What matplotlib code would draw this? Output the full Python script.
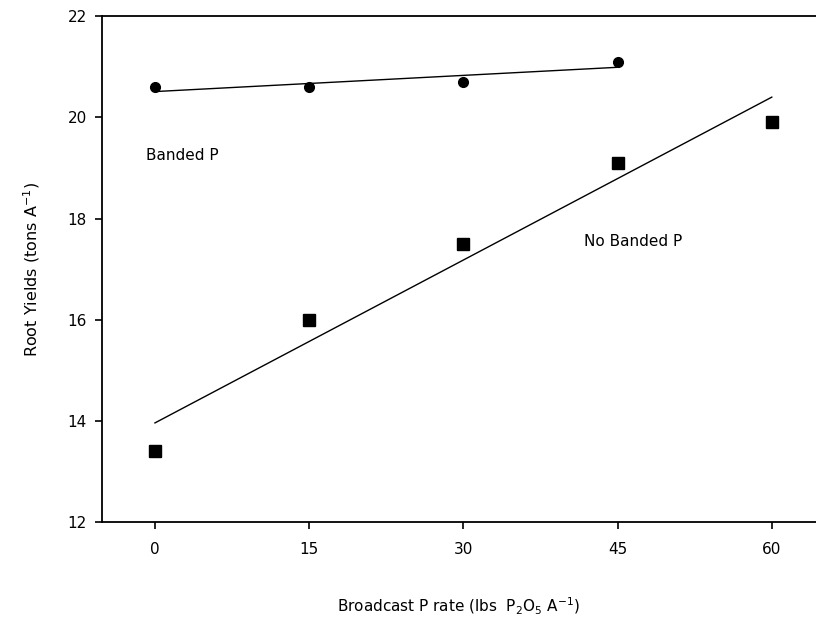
import numpy as np
import matplotlib
matplotlib.use("Agg")
import matplotlib.pyplot as plt

rate_banded = [0, 15, 30, 45]
yield_banded = [20.6, 20.6, 20.7, 21.1]
rate_nobanded = [0, 15, 30, 45, 60]
yield_nobanded = [13.4, 16.0, 17.5, 19.1, 19.9]
xticks = [0, 15, 30, 45, 60]
yticks = [12, 14, 16, 18, 20, 22]

plt.rcParams['font.family'] = ['DejaVu Sans']

fig = plt.figure(figsize=(8.16, 6.23), dpi=100)
ax = fig.add_axes([0.125, 0.162, 0.875, 0.812])

ax.plot(rate_banded, yield_banded, 'o', color='black', ms=7, zorder=3)
ax.plot(rate_nobanded, yield_nobanded, 's', color='black', ms=8.5, zorder=3)

for xs, ys in ((rate_banded, yield_banded), (rate_nobanded, yield_nobanded)):
    xs = np.array(xs, float); ys = np.array(ys, float)
    m, b = np.polyfit(xs, ys, 1)
    xl = np.array([xs.min(), xs.max()])
    ax.plot(xl, m * xl + b, color='black', lw=1.0)

ax.text(-0.9, 19.25, 'Banded P', fontsize=11, va='center', ha='left')
ax.text(41.7, 17.55, 'No Banded P', fontsize=11, va='center', ha='left')

ax.set_xlim(-5.15, 64.3)
ax.set_ylim(12, 22)
ax.set_xticks(xticks)
ax.set_yticks(yticks)
ax.tick_params(direction='out', length=5, width=1.2, labelsize=11)
ax.tick_params(axis='x', pad=9)
ax.tick_params(axis='y', pad=6)
for s in ('left', 'bottom', 'top'):
    ax.spines[s].set_linewidth(1.3)
ax.spines['right'].set_visible(False)

ax.set_xlabel('Broadcast P rate (lbs  P$_2$O$_5$ A$^{-1}$)', fontsize=11, labelpad=28)
ax.set_ylabel('Root Yields (tons A$^{-1}$)', fontsize=11.5, labelpad=18)

fig.savefig('out.png', dpi=100)
